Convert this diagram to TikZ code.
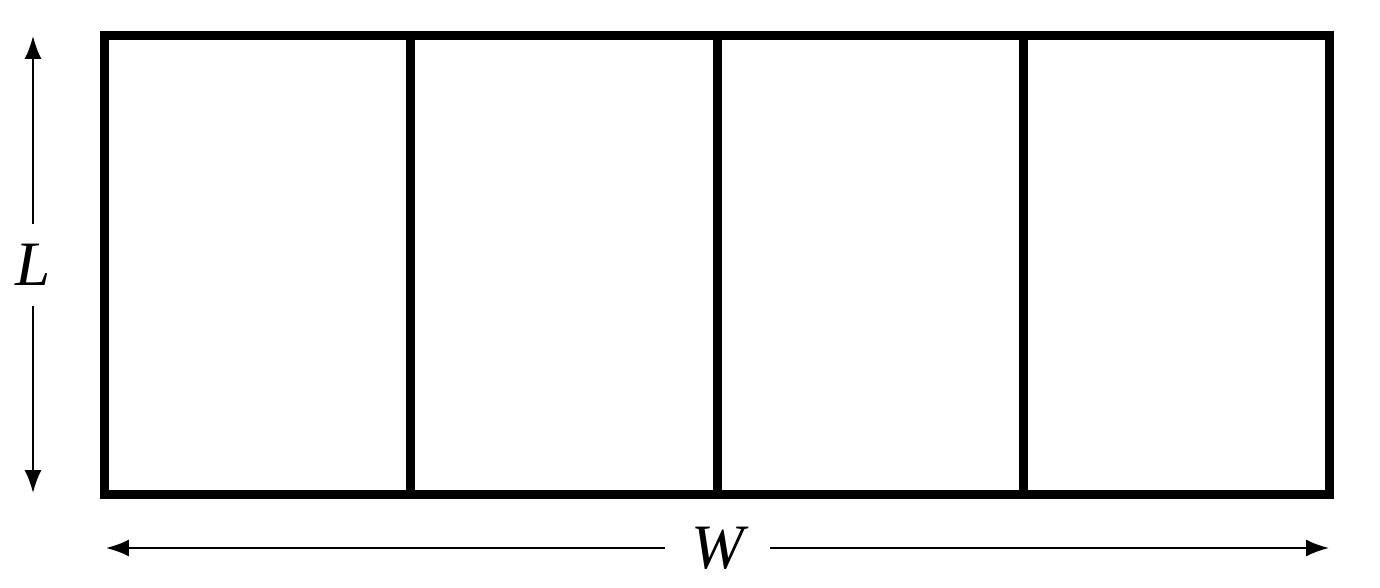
\documentclass[tikz,border=0pt]{standalone}
\usepackage{fontspec}
\setmainfont{Liberation Serif}
\usetikzlibrary{arrows.meta}

\tikzset{
  wall/.style={line width=0.18cm},
  dimline/.style={line width=0.04cm},
  dimlabel/.style={font=\fontsize{36}{42}\selectfont\itshape, inner sep=0pt}
}

\begin{document}
\begin{tikzpicture}[x=0.02cm, y=-0.02cm, >={Latex[length=0.46cm,width=0.34cm]}]
  \useasboundingbox (0,0) rectangle (1380,588);
  % cells
  \draw[wall] (104.5,35.5) rectangle (1329.5,494.5);
  \foreach \x in {410.75,717,1023.25}
    \draw[wall] (\x,35.5) -- (\x,494.5);
  % length
  \coordinate (ltop) at (33,36);
  \coordinate (lbot) at (33,493);
  \node[dimlabel, minimum height=1.64cm] (llab) at (33,265) {L};
  \draw[dimline, ->] (llab) -- (ltop);
  \draw[dimline, ->] (llab) -- (lbot);
  % width
  \coordinate (wleft) at (106,548);
  \coordinate (wright) at (1329,548);
  \node[dimlabel, minimum width=2.1cm] (wlab) at (717.5,548) {W};
  \draw[dimline, ->] (wlab) -- (wleft);
  \draw[dimline, ->] (wlab) -- (wright);
\end{tikzpicture}
\end{document}
